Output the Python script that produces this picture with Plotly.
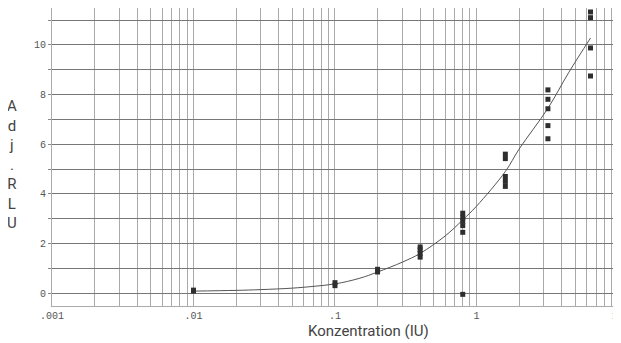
import plotly.graph_objects as go

# Measured data (concentration in IU, adjusted RLU)
conc = [0.01, 0.01,
        0.1, 0.1,
        0.2, 0.2,
        0.4, 0.4, 0.4, 0.4,
        0.8, 0.8, 0.8, 0.8, 0.8, 0.8,
        1.6, 1.6, 1.6, 1.6, 1.6,
        3.2, 3.2, 3.2, 3.2, 3.2,
        6.4, 6.4, 6.4, 6.4]
rlu = [0.08, 0.12,
       0.30, 0.42,
       0.85, 0.96,
       1.45, 1.60, 1.75, 1.86,
       3.22, 3.05, 2.90, 2.72, 2.45, -0.05,
       5.42, 5.60, 4.30, 4.50, 4.70,
       8.19, 7.81, 7.43, 6.75, 6.22,
       11.33, 11.10, 9.88, 8.75]

# Fitted curve
curve_x = [0.01, 0.02, 0.03, 0.05, 0.07, 0.1, 0.15, 0.2, 0.3, 0.4, 0.6, 0.8,
           1.0, 1.6, 2.0, 3.2, 4.5, 6.4]
curve_y = [0.08, 0.11, 0.14, 0.20, 0.27, 0.37, 0.60, 0.85, 1.25, 1.60, 2.30, 2.95,
           3.50, 4.90, 5.80, 7.45, 8.90, 10.28]

# Axis ticks
x_decades = [0.001, 0.01, 0.1, 1, 10]
x_decade_labels = [".001", ".01", ".1", "1", "10"]
y_ticks = list(range(0, 12))
y_labels = [str(v) if v % 2 == 0 else "" for v in y_ticks]

x_tickvals = []
x_ticktext = []
for d, lab in zip(x_decades, x_decade_labels):
    x_tickvals.append(d)
    x_ticktext.append(lab)
    if d < 10:
        for m in range(2, 10):
            x_tickvals.append(d * m)
            x_ticktext.append("")

fig = go.Figure()
fig.add_trace(go.Scatter(x=curve_x, y=curve_y, mode="lines",
                         line=dict(color="#555555", width=1, shape="spline"),
                         hoverinfo="skip", showlegend=False))
fig.add_trace(go.Scatter(x=conc, y=rlu, mode="markers",
                         marker=dict(symbol="square", size=5, color="#2e2e2e"),
                         showlegend=False))

tick_font = dict(family="Liberation Mono, DejaVu Sans Mono, monospace", size=10, color="#555555")

# page has an 8px body margin: figure sized/positioned to compensate
W, H = 613, 335
L, R, T, B = 44, 3, 0, 37
PW, PH = W - L - R, H - T - B

fig.update_layout(
    width=W, height=H,
    margin=dict(l=L, r=R, t=T, b=B),
    paper_bgcolor="white", plot_bgcolor="white",
    xaxis=dict(type="log", range=[-3, 1.0004], tickvals=x_tickvals, ticktext=x_ticktext,
               showgrid=True, gridcolor="#aaaaaa", gridwidth=1,
               showline=True, linecolor="#aaaaaa", mirror=True,
               zeroline=False, ticks="", tickfont=tick_font, automargin=False,
               ticklabeloverflow="allow"),
    yaxis=dict(range=[-0.52, 11.49], tickvals=y_ticks, ticktext=y_labels,
               showgrid=True, gridcolor="#777777", gridwidth=1,
               showline=True, linecolor="#aaaaaa", mirror=True,
               zeroline=False, ticks="outside", ticklen=3, tickcolor="#888888",
               tickfont=tick_font, automargin=False),
    annotations=[
        dict(text="Konzentration (IU)", xref="paper", yref="paper",
             x=(360 - L) / PW, y=(PH - 312) / PH, xanchor="center", yanchor="top",
             showarrow=False, font=dict(family="Roboto, sans-serif", size=15, color="#444444")),
        dict(text="A<br>d<br>j<br>.<br>R<br>L<br>U", xref="paper", yref="paper",
             x=(4 - L) / PW, y=(PH - 156) / PH, xanchor="center", yanchor="middle",
             showarrow=False, align="center",
             font=dict(family="Roboto, sans-serif", size=15, color="#444444")),
    ],
)

fig.write_html("out.html")
